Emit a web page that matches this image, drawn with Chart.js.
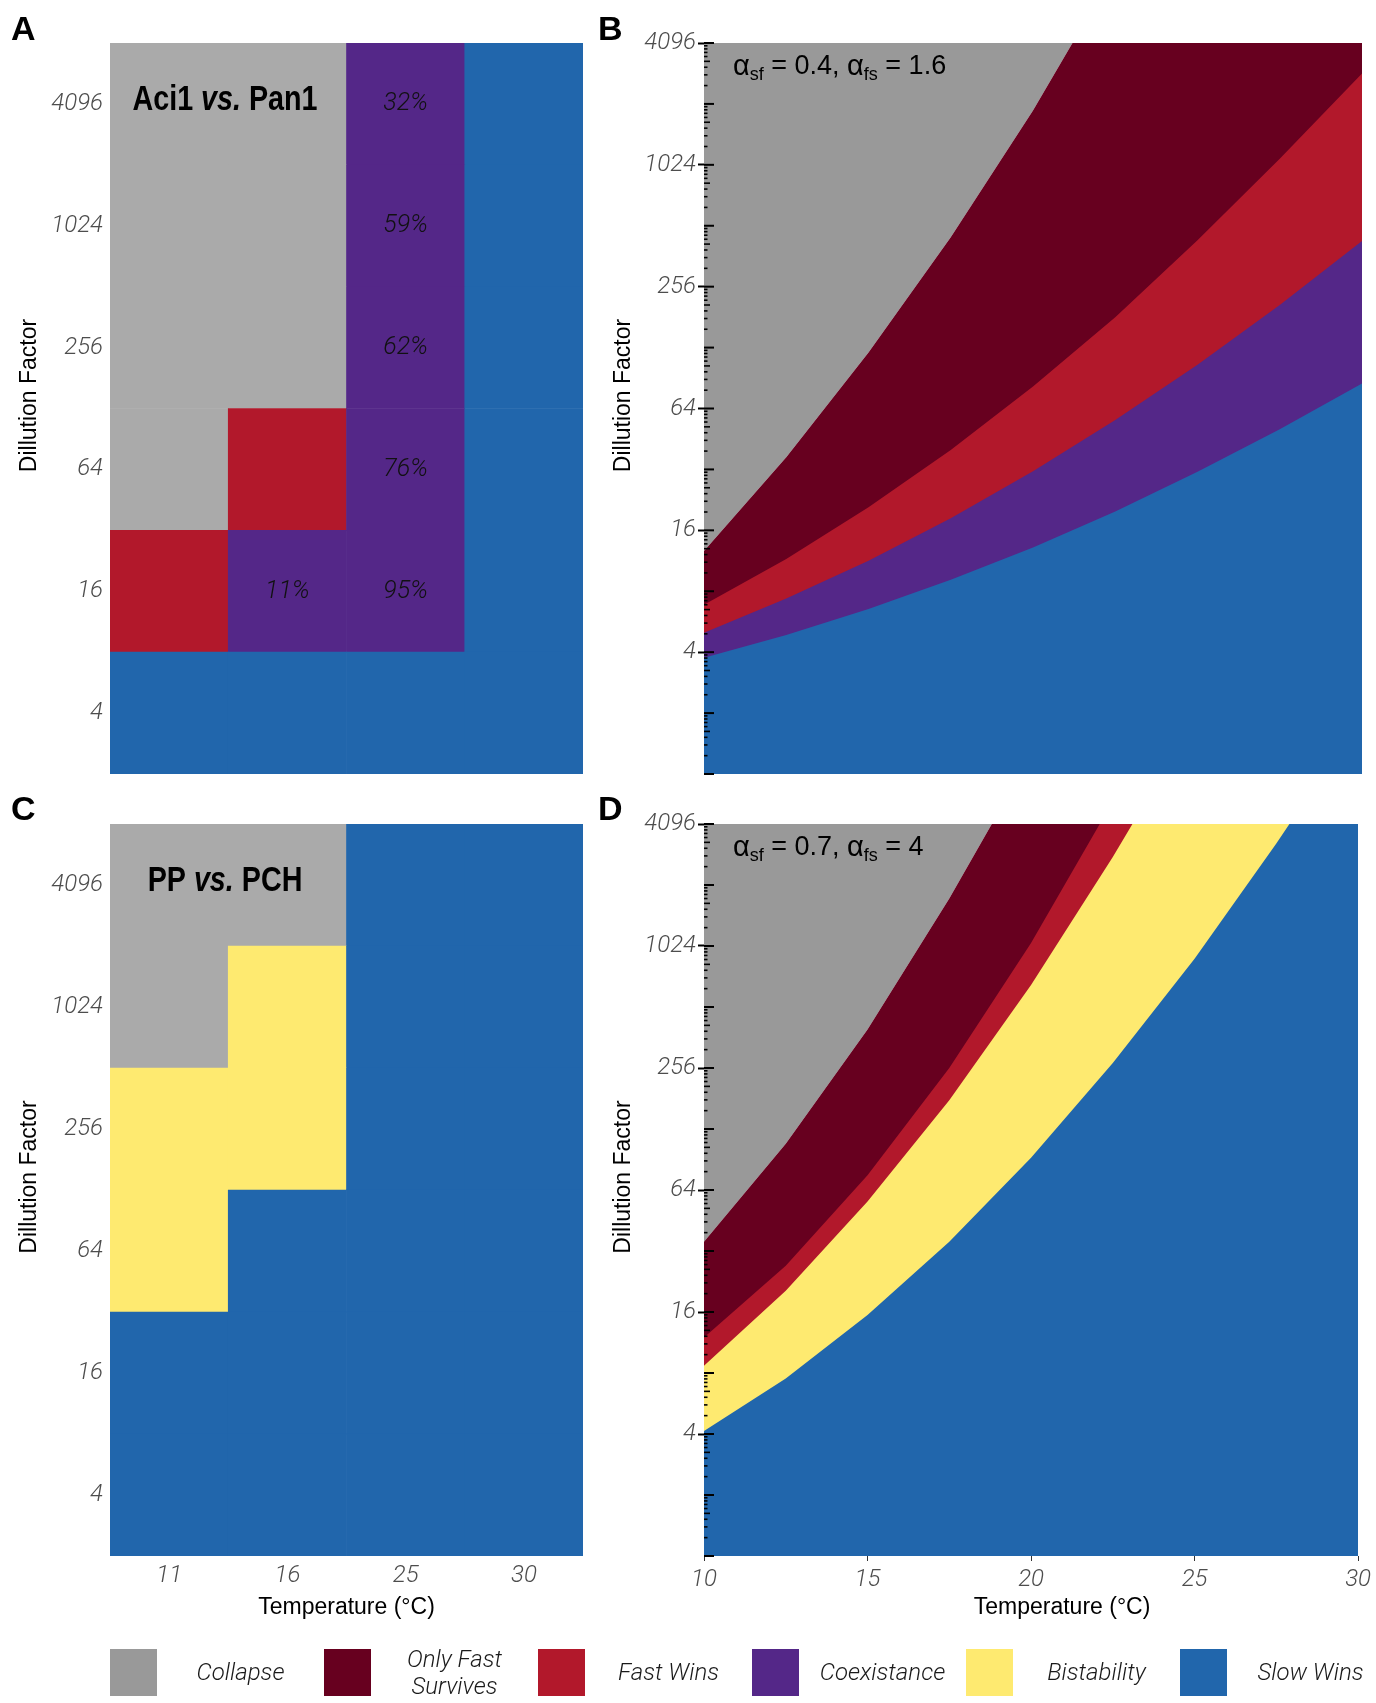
<!DOCTYPE html>
<html>
<head>
<meta charset="utf-8">
<script src="https://cdn.jsdelivr.net/npm/chart.js@4.4.1/dist/chart.umd.min.js"></script>
<style>
  body { margin: 0; background: #fff; width: 1376px; height: 1703px; position: relative; overflow: hidden; }
  .panel { position: absolute; }
  .letter { position: absolute; font: bold 34px 'Liberation Sans', Arial, sans-serif; color: #000; line-height: 40px; }
  .legend { position: absolute; left: 110px; top: 1649px; display: flex; }
  .item { display: flex; align-items: center; width: 214px; height: 47px; }
  .swatch { width: 47px; height: 47px; flex: none; }
  .item span { width: 167px; text-align: center; font: italic 300 24px Roboto, 'Liberation Sans', sans-serif; line-height: 27px; color: #1a1a1a; }
</style>
</head>
<body>
<div class="panel" style="left:0;top:0;width:600px;height:800px"><canvas id="chartA"></canvas></div>
<div class="panel" style="left:600px;top:0;width:776px;height:800px"><canvas id="chartB"></canvas></div>
<div class="panel" style="left:0;top:800px;width:600px;height:903px"><canvas id="chartC"></canvas></div>
<div class="panel" style="left:600px;top:800px;width:776px;height:903px"><canvas id="chartD"></canvas></div>
<div class="letter" style="left:11px;top:8px">A</div>
<div class="letter" style="left:598px;top:8px">B</div>
<div class="letter" style="left:11px;top:788px">C</div>
<div class="letter" style="left:598px;top:788px">D</div>
<div class="legend" id="legend"></div>
<script>
// outcome names and colours
const outcomes = ['Collapse', 'Only Fast Survives', 'Fast Wins', 'Coexistance', 'Bistability', 'Slow Wins'];
const outcomeColors = ['#999999', '#67001f', '#b2182b', '#542788', '#feea70', '#2166ac'];
const tileGray = '#aaaaaa';

// experiment grids (A, C)
const tileTemps = ['11', '16', '25', '30'];
const dilutionLabels = ['4', '16', '64', '256', '1024', '4096'];

// rows from dilution 4 (bottom) to 4096 (top); C=Collapse F=Fast Wins X=Coexistance B=Bistability S=Slow Wins
const aciPanRows = [
  ['S', 'S', 'S', 'S'],
  ['F', 'X', 'X', 'S'],
  ['C', 'F', 'X', 'S'],
  ['C', 'C', 'X', 'S'],
  ['C', 'C', 'X', 'S'],
  ['C', 'C', 'X', 'S'],
];
const aciPanShares = [
  [null, null, null, null],
  [null, '11%', '95%', null],
  [null, null, '76%', null],
  [null, null, '62%', null],
  [null, null, '59%', null],
  [null, null, '32%', null],
];
const ppPchRows = [
  ['S', 'S', 'S', 'S'],
  ['S', 'S', 'S', 'S'],
  ['B', 'S', 'S', 'S'],
  ['B', 'B', 'S', 'S'],
  ['C', 'B', 'S', 'S'],
  ['C', 'C', 'S', 'S'],
];

// model boundaries (B, D): log2 dilution factor at each temperature
const modelTicks = [2, 4, 6, 8, 10, 12];
const bTemps = [10, 12.5, 15, 17.5, 20, 22.5, 25, 27.5, 30];

const bCollapseT = [10, 12.5, 15, 17.5, 20, 21.2, 30];
const bCollapse = [3.66, 5.2, 6.92, 8.81, 10.89, 12, 12];
const bOnlyFast = [2.78, 3.53, 4.38, 5.32, 6.36, 7.5, 8.76, 10.1, 11.5];
const bFastWins = [2.32, 2.88, 3.5, 4.2, 4.97, 5.81, 6.72, 7.7, 8.75];
const bCoexist = [1.91, 2.28, 2.71, 3.19, 3.72, 4.31, 4.96, 5.66, 6.41];

const dCollapseT = [10, 12.5, 15, 17.5, 18.8, 30];
const dCollapse = [5.15, 6.76, 8.63, 10.78, 12, 12];
const dOnlyFastT = [10, 12.5, 15, 17.5, 20, 22.1, 30];
const dOnlyFast = [3.58, 4.76, 6.24, 8.0, 10.05, 12, 12];
const dFastWinsT = [10, 12.5, 15, 17.5, 20, 22.5, 23.1, 30];
const dFastWins = [3.12, 4.35, 5.81, 7.47, 9.36, 11.46, 12, 12];
const dBistableT = [10, 12.5, 15, 17.5, 20, 22.5, 25, 27.5, 27.9, 30];
const dBistable = [2.05, 2.91, 3.95, 5.15, 6.53, 8.08, 9.79, 11.68, 12, 12];

const codeColor = { C: tileGray, F: outcomeColors[2], X: outcomeColors[3], B: outcomeColors[4], S: outcomeColors[5] };

const tickFont = { family: "Roboto, 'Liberation Sans', sans-serif", size: 24, style: 'italic', weight: 300 };
const tickColor = '#4d4d4d';
const titleFont = "23px 'Liberation Sans', Arial, sans-serif";

// axis titles and panel captions
const panelText = {
  id: 'panelText',
  afterDraw(chart, args, opts) {
    const { ctx, chartArea } = chart;
    const midY = (chartArea.top + chartArea.bottom) / 2;
    ctx.save();
    ctx.fillStyle = '#000';
    ctx.font = titleFont;
    ctx.textAlign = 'center';
    ctx.textBaseline = 'middle';
    if (opts.yTitleX) {
      ctx.save();
      ctx.translate(opts.yTitleX, midY - 13);
      ctx.rotate(-Math.PI / 2);
      ctx.fillText('Dillution Factor', 0, 0);
      ctx.restore();
    }
    if (opts.xTitle) {
      ctx.fillText('Temperature (°C)', (chartArea.left + chartArea.right) / 2 + (opts.xTitleDx || 0), chartArea.bottom + 52);
    }
    if (opts.caption) {
      const parts = opts.caption;
      ctx.save();
      ctx.translate(chartArea.left + 115, chartArea.top + 57);
      ctx.scale(0.82, 1);
      ctx.textAlign = 'left';
      const fonts = parts.map((p, i) => (i === 1 ? 'italic bold 35px' : 'bold 35px') + " 'Liberation Sans', Arial, sans-serif");
      let total = 0;
      parts.forEach((p, i) => { ctx.font = fonts[i]; total += ctx.measureText(p).width; });
      let x = -total / 2;
      parts.forEach((p, i) => { ctx.font = fonts[i]; ctx.fillText(p, x, 0); x += ctx.measureText(p).width; });
      ctx.restore();
    }
    if (opts.alpha) {
      let x = chartArea.left + 29;
      const y = chartArea.top + 24;
      ctx.textAlign = 'left';
      const put = (t, size, dy) => {
        ctx.font = size + "px 'Liberation Sans', Arial, sans-serif";
        ctx.fillText(t, x, y + dy);
        x += ctx.measureText(t).width;
      };
      put('α', 29, 0); put('sf', 18, 8); put(' = ' + opts.alpha[0] + ', ', 27, 0);
      put('α', 29, 0); put('fs', 18, 8); put(' = ' + opts.alpha[1], 27, 0);
    }
    ctx.restore();
  },
};

// percentage of coexistence written in the tiles
const tileShares = {
  id: 'tileShares',
  afterDatasetsDraw(chart, args, opts) {
    if (!opts.shares) return;
    const { ctx } = chart;
    ctx.save();
    ctx.font = "italic 300 25px Roboto, 'Liberation Sans', sans-serif";
    ctx.fillStyle = '#111';
    ctx.textAlign = 'center';
    ctx.textBaseline = 'middle';
    opts.shares.forEach((row, r) => {
      const meta = chart.getDatasetMeta(r);
      row.forEach((t, c) => {
        if (!t) return;
        const bar = meta.data[c];
        ctx.fillText(t, bar.x, (bar.y + bar.base) / 2);
      });
    });
    ctx.restore();
  },
};

// log ticks along the inside of the y axis
const logTicks = {
  id: 'logTicks',
  afterDatasetsDraw(chart) {
    const { ctx, chartArea, scales } = chart;
    ctx.save();
    ctx.strokeStyle = '#000';
    for (let k = 0; k <= 12; k++) {
      for (let m = 1; m <= 9; m++) {
        const v = k + Math.log10(m);
        if (v > 12) continue;
        const y = scales.y.getPixelForValue(v);
        const len = m === 1 ? 10 : (m === 5 ? 6 : 3.5);
        ctx.lineWidth = m === 1 ? 2 : 1.6;
        ctx.beginPath();
        ctx.moveTo(chartArea.left, y);
        ctx.lineTo(chartArea.left + len, y);
        ctx.stroke();
      }
    }
    ctx.restore();
  },
};

function tileChart(id, rows, shares, caption, showX, padding) {
  const datasets = rows.map((row, r) => ({
    label: dilutionLabels[r],
    data: row.map(() => 1),
    backgroundColor: row.map((s) => codeColor[s]),
    borderWidth: 0,
    barPercentage: 1,
    categoryPercentage: 1,
  }));
  new Chart(document.getElementById(id), {
    type: 'bar',
    data: { labels: tileTemps, datasets },
    options: {
      responsive: true,
      maintainAspectRatio: false,
      animation: false,
      layout: { padding },
      scales: {
        x: {
          stacked: true,
          display: showX,
          grid: { display: false, drawTicks: false },
          border: { display: false },
          ticks: { color: tickColor, font: tickFont, padding: 6 },
          afterFit: (s) => { s.height = showX ? 70 : 0; },
        },
        y: {
          stacked: true,
          min: 0,
          max: 6,
          grid: { display: false, drawTicks: false },
          border: { display: false },
          afterBuildTicks: (s) => { s.ticks = dilutionLabels.map((_, i) => ({ value: i + 0.5 })); },
          ticks: { color: tickColor, font: tickFont, padding: 7, callback: (v) => dilutionLabels[Math.floor(v)] },
          afterFit: (s) => { s.width = 110; },
        },
      },
      plugins: {
        legend: { display: false },
        tooltip: { enabled: false },
        tileShares: { shares },
        panelText: { yTitleX: 30, xTitle: showX, caption },
      },
    },
    plugins: [tileShares, panelText],
  });
}

function pts(xs, ys) {
  return xs.map((x, i) => ({ x, y: ys[i] }));
}

function band(data, color, fill) {
  return {
    data,
    fill,
    backgroundColor: color,
    borderWidth: 0,
    pointRadius: 0,
    tension: 0,
  };
}

function modelChart(id, bands, alpha, showX, padding) {
  new Chart(document.getElementById(id), {
    type: 'line',
    data: { datasets: bands },
    options: {
      responsive: true,
      maintainAspectRatio: false,
      animation: false,
      layout: { padding },
      scales: {
        x: {
          type: 'linear',
          min: 10,
          max: 30,
          display: showX,
          grid: { drawOnChartArea: false, drawTicks: true, tickLength: 5, tickColor: '#333' },
          border: { display: false },
          ticks: { stepSize: 5, color: tickColor, font: tickFont, padding: 5 },
          afterFit: (s) => { s.height = showX ? 70 : 0; },
        },
        y: {
          min: 0,
          max: 12,
          grid: { drawOnChartArea: false, drawTicks: true, tickLength: 6, tickColor: '#000', tickWidth: 2 },
          border: { display: false },
          afterBuildTicks: (s) => { s.ticks = modelTicks.map((v) => ({ value: v })); },
          ticks: { color: tickColor, font: tickFont, padding: 2, callback: (v) => String(2 ** v) },
          afterFit: (s) => { s.width = 104; },
        },
      },
      plugins: {
        legend: { display: false },
        tooltip: { enabled: false },
        panelText: { yTitleX: 24, xTitle: showX, xTitleDx: 31, alpha },
      },
    },
    plugins: [logTicks, panelText],
  });
}

tileChart('chartA', aciPanRows, aciPanShares, ['Aci1 ', 'vs.', ' Pan1'], false, { top: 43, right: 17, bottom: 26, left: 0 });
tileChart('chartC', ppPchRows, null, ['PP ', 'vs.', ' PCH'], true, { top: 24, right: 17, bottom: 77, left: 0 });

// dataset 0 is drawn on top
modelChart('chartB', [
  band(pts(bTemps, bCoexist), outcomeColors[5], 'start'),
  band(pts(bTemps, bFastWins), outcomeColors[3], 'start'),
  band(pts(bTemps, bOnlyFast), outcomeColors[2], 'start'),
  band(pts(bCollapseT, bCollapse), outcomeColors[1], 'start'),
  band(pts(bCollapseT, bCollapse), outcomeColors[0], 'end'),
], ['0.4', '1.6'], false, { top: 43, right: 14, bottom: 26, left: 0 });

modelChart('chartD', [
  band(pts(dBistableT, dBistable), outcomeColors[5], 'start'),
  band(pts(dFastWinsT, dFastWins), outcomeColors[4], 'start'),
  band(pts(dOnlyFastT, dOnlyFast), outcomeColors[2], 'start'),
  band(pts(dCollapseT, dCollapse), outcomeColors[1], 'start'),
  band(pts(dCollapseT, dCollapse), outcomeColors[0], 'end'),
], ['0.7', '4'], true, { top: 24, right: 14, bottom: 77, left: 0 });

// legend
const legend = document.getElementById('legend');
outcomes.forEach((name, i) => {
  const item = document.createElement('div');
  item.className = 'item';
  const sw = document.createElement('div');
  sw.className = 'swatch';
  sw.style.background = outcomeColors[i];
  const label = document.createElement('span');
  label.innerHTML = name === 'Only Fast Survives' ? 'Only Fast<br>Survives' : name;
  item.append(sw, label);
  legend.append(item);
});
</script>
</body>
</html>
